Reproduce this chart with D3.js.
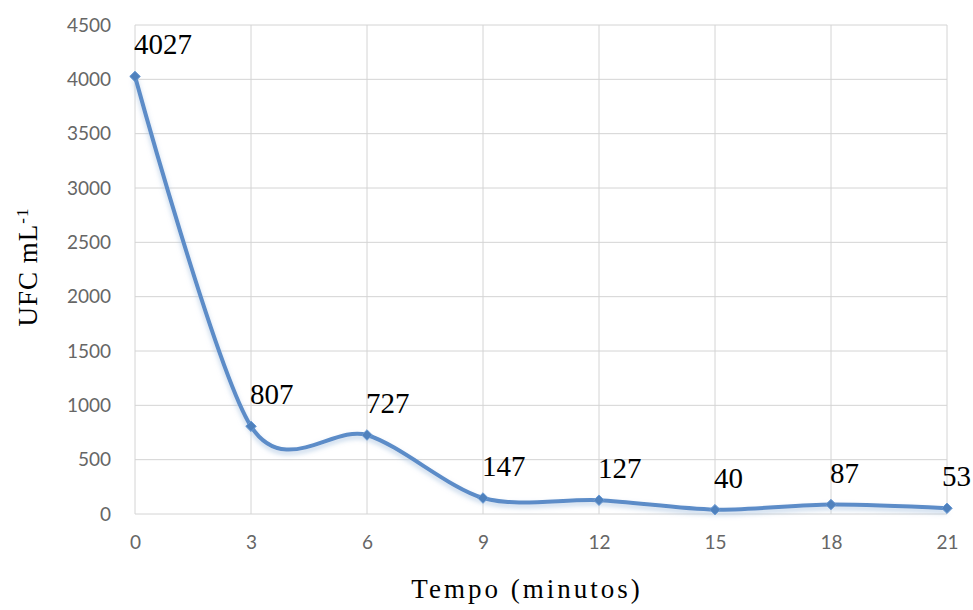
<!DOCTYPE html>
<html>
<head>
<meta charset="utf-8">
<script src="https://cdn.jsdelivr.net/npm/d3@7/dist/d3.min.js"></script>
<style>
  body { margin: 0; background: #fff; }
  svg { display: block; }
</style>
</head>
<body>
<svg id="chart" width="973" height="610"></svg>
<script>
const times = [0, 3, 6, 9, 12, 15, 18, 21];
const ufc = [4027, 807, 727, 147, 127, 40, 87, 53];
const xTicks = [0, 3, 6, 9, 12, 15, 18, 21];
const yTicks = [0, 500, 1000, 1500, 2000, 2500, 3000, 3500, 4000, 4500];

(function () {
const W = 973;
const svg = d3.select("#chart");
const mL = 135, mR = 947, mT = 25, mB = 514;

const x = d3.scaleLinear().domain([0, 21]).range([mL, mR]);
const y = d3.scaleLinear().domain([0, 4500]).range([mB, mT]);

const defs = svg.append("defs");
const f = defs.append("filter").attr("id", "glow").attr("x", "-10%").attr("y", "-10%").attr("width", "120%").attr("height", "130%");
f.append("feGaussianBlur").attr("in", "SourceAlpha").attr("stdDeviation", 2.5).attr("result", "b");
f.append("feOffset").attr("in", "b").attr("dx", 0).attr("dy", 3).attr("result", "o");
f.append("feFlood").attr("flood-color", "#a9c3e0").attr("flood-opacity", 0.75);
f.append("feComposite").attr("in2", "o").attr("operator", "in").attr("result", "s");
const m = f.append("feMerge");
m.append("feMergeNode").attr("in", "s");
m.append("feMergeNode").attr("in", "SourceGraphic");

// gridlines
svg.append("g").selectAll("line").data(yTicks).join("line")
  .attr("x1", mL).attr("x2", mR)
  .attr("y1", d => y(d)).attr("y2", d => y(d))
  .attr("stroke", "#d4d4d4").attr("stroke-width", 1);
svg.append("g").selectAll("line").data(xTicks).join("line")
  .attr("x1", d => x(d)).attr("x2", d => x(d))
  .attr("y1", mT).attr("y2", mB)
  .attr("stroke", "#d4d4d4").attr("stroke-width", 1);

const tickFont = "Lato, 'Open Sans', 'DejaVu Sans', sans-serif";

// axes
const yAxis = d3.axisLeft(y).tickValues(yTicks).tickSize(0).tickPadding(24).tickFormat(d3.format("d"));
const gy = svg.append("g").attr("transform", `translate(${mL},0)`).call(yAxis);
gy.select(".domain").remove();
gy.selectAll("text").attr("font-family", tickFont)
  .attr("font-size", 19).attr("fill", "#666");

const xAxis = d3.axisBottom(x).tickValues(xTicks).tickSize(0).tickPadding(22).tickFormat(d3.format("d"));
const gx = svg.append("g").attr("transform", `translate(0,${mB})`).call(xAxis);
gx.select(".domain").remove();
gx.selectAll("text").attr("font-family", tickFont)
  .attr("font-size", 19).attr("fill", "#666");

// line
const pts = times.map((t, i) => [t, ufc[i]]);
const line = d3.line().x(d => x(d[0])).y(d => y(d[1])).curve(d3.curveCardinal.tension(0.12));
svg.append("path").datum(pts).attr("d", line)
  .attr("fill", "none").attr("stroke", "#5b8cc8").attr("stroke-width", 4)
  .attr("stroke-linejoin", "round").attr("filter", "url(#glow)");

// markers
svg.append("g").selectAll("path").data(pts).join("path")
  .attr("d", d3.symbol().type(d3.symbolDiamond2).size(70))
  .attr("transform", d => `translate(${x(d[0])},${y(d[1])})`)
  .attr("fill", "#4f81bd").attr("stroke", "#6a9ad3").attr("stroke-width", 1);

// data labels
const labels = svg.append("g").selectAll("text").data(pts).join("text")
  .attr("x", d => x(d[0]) - 1)
  .attr("y", d => y(d[1]) - 22)
  .attr("font-family", "'Liberation Serif', 'Times New Roman', serif")
  .attr("font-size", 29).attr("fill", "#000")
  .text(d => d[1]);
labels.each(function () {
  const w = this.getComputedTextLength();
  const cx = +this.getAttribute("x");
  if (cx + w > W - 2) this.setAttribute("x", W - 2 - w);
});

// axis titles
svg.append("text")
  .attr("transform", "translate(37,267) rotate(-90)")
  .attr("text-anchor", "middle")
  .attr("font-family", "'Liberation Serif', 'Times New Roman', serif")
  .attr("font-size", 27).attr("letter-spacing", 1).attr("fill", "#000")
  .html('UFC mL<tspan baseline-shift="super" font-size="17">-1</tspan>');

svg.append("text")
  .attr("x", 527).attr("y", 598)
  .attr("text-anchor", "middle")
  .attr("font-family", "'Liberation Serif', 'Times New Roman', serif")
  .attr("font-size", 27).attr("letter-spacing", 3).attr("fill", "#000")
  .text("Tempo (minutos)");
})();
</script>
</body>
</html>
